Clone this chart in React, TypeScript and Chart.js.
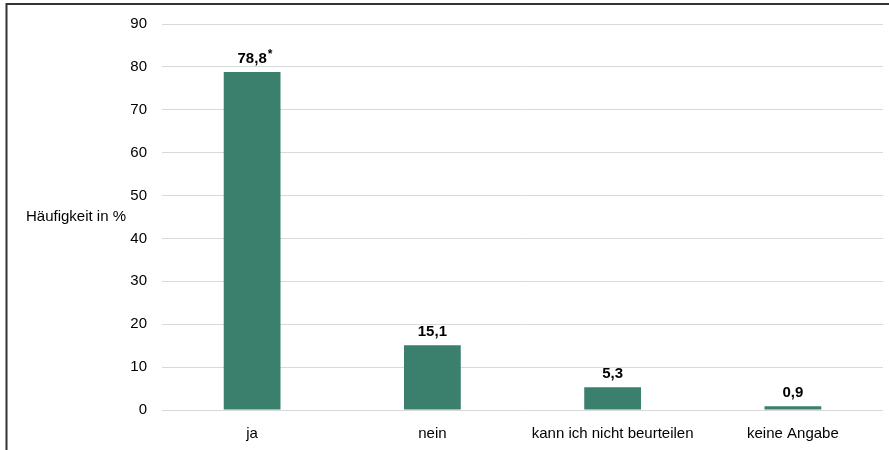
import React, { useEffect, useRef } from "react";
import { Chart, registerables } from "chart.js";

Chart.register(...registerables);

const categories = ["ja", "nein", "kann ich nicht beurteilen", "keine Angabe"];
const values = [78.8, 15.1, 5.3, 0.9];
const valueLabels = ["78,8", "15,1", "5,3", "0,9"];
const valueMarks = ["*", "", "", ""];
const yTitle = "Häufigkeit in %";

const FONT = "'Liberation Sans Narrow', 'Arial Narrow', 'Liberation Sans', sans-serif";
const BAR = "#3b7f6d";

export default function App() {
  const ref = useRef<HTMLCanvasElement | null>(null);
  useEffect(() => {
    if (!ref.current) return;
    const deco = {
      id: "deco",
      afterDraw(chart: any) {
        const ctx = chart.ctx;
        const area = chart.chartArea;
        ctx.save();
        // frame
        ctx.strokeStyle = "#333333";
        ctx.lineWidth = 2;
        ctx.beginPath();
        ctx.moveTo(6.5, 450);
        ctx.lineTo(6.5, 4);
        ctx.lineTo(889, 4);
        ctx.stroke();
        // y title
        ctx.fillStyle = "#000";
        ctx.font = `15px ${FONT}`;
        ctx.textAlign = "center";
        ctx.textBaseline = "middle";
        ctx.fillText(yTitle, 76, (area.top + area.bottom) / 2);
        // value labels
        const meta = chart.getDatasetMeta(0);
        meta.data.forEach((bar: any, i: number) => {
          ctx.font = `bold 15px ${FONT}`;
          ctx.textAlign = "center";
          ctx.textBaseline = "alphabetic";
          const y = bar.y - 9;
          ctx.fillText(valueLabels[i], bar.x, y);
          if (valueMarks[i]) {
            const w = ctx.measureText(valueLabels[i]).width;
            ctx.font = `bold 12px ${FONT}`;
            ctx.textAlign = "left";
            ctx.fillText(valueMarks[i], bar.x + w / 2 + 1, y - 5);
          }
        });
        ctx.restore();
      },
    };
    const chart = new Chart(ref.current, {
      type: "bar",
      data: {
        labels: categories,
        datasets: [
          {
            data: values,
            backgroundColor: BAR,
            borderWidth: 0,
            categoryPercentage: 1,
            barPercentage: 0.315,
          },
        ],
      },
      options: {
        responsive: false,
        animation: false,
        devicePixelRatio: 1,
        layout: { padding: { left: 0, right: 6, top: 22, bottom: 0 } },
        plugins: { legend: { display: false }, tooltip: { enabled: false } },
        scales: {
          x: {
            grid: { display: false, drawTicks: false },
            border: { display: false },
            ticks: { color: "#000", font: { family: FONT, size: 15 }, padding: 15, maxRotation: 0 },
            afterFit: (s: any) => { s.height = 40; },
          },
          y: {
            min: 0,
            max: 90,
            ticks: { stepSize: 10, color: "#000", font: { family: FONT, size: 15 }, padding: 15 },
            grid: { color: "#d9d9d9", lineWidth: 1, drawTicks: false },
            border: { display: false },
            afterFit: (s: any) => { s.width = 162; },
          },
        },
      },
      plugins: [deco],
    });
    return () => chart.destroy();
  }, []);
  return (
    <div style={{ position: "fixed", left: 0, top: 0, width: 889, height: 450, background: "#fff" }}>
      <canvas ref={ref} width={889} height={450} style={{ display: "block" }} />
    </div>
  );
}
